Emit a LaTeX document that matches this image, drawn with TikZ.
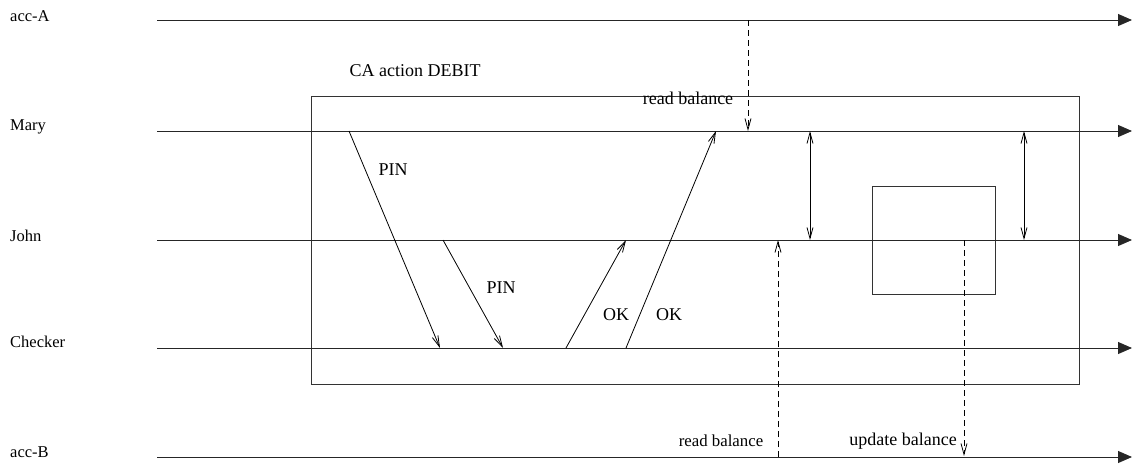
\documentclass[tikz,border=0pt]{standalone}
\usepackage{fontspec}
\setmainfont{Liberation Serif}
\usetikzlibrary{arrows.meta}
\begin{document}
\begin{tikzpicture}[x=1pt,y=-1pt,
  lifeline/.style={line width=0.9pt,draw=black!85,-{Triangle[length=14pt,width=12pt]}},
  msg/.style={line width=0.8pt,-{Straight Barb[length=11pt,width=6pt,line width=0.8pt]}},
  both/.style={line width=0.8pt,{Straight Barb[length=11pt,width=6pt,line width=0.8pt]}-{Straight Barb[length=11pt,width=6pt,line width=0.8pt]}},
  access/.style={msg,dash pattern=on 6pt off 4pt},
  frame/.style={draw=black!80,line width=0.9pt},
  lane/.style={anchor=west,font=\fontsize{16.5}{18}\selectfont,inner sep=0pt},
  tag/.style={font=\fontsize{18}{20}\selectfont,inner sep=0pt}]
\useasboundingbox (0,0) rectangle (1133,464);

% lifelines
\foreach \name/\y in {accA/20,mary/131,john/240,checker/348,accB/457}{
  \coordinate (\name-s) at (157,\y);
  \coordinate (\name-e) at (1132,\y);
}
\node[lane] (laccA) at (10,16) {acc-A};
\node[lane] (lmary) at (10,127) {Mary};
\node[lane] (ljohn) at (10,236) {John};
\node[lane] (lchecker) at (10,342) {Checker};
\node[lane] (laccB) at (10,452) {acc-B};

% CA action frame and nested box
\node[frame,minimum width=768pt,minimum height=288pt,inner sep=0pt,anchor=north west] (ca) at (311,96) {};
\node[frame,minimum width=123pt,minimum height=108pt,inner sep=0pt,anchor=north west] (nested) at (872,186) {};

\foreach \name in {accA,mary,john,checker,accB}{
  \draw[lifeline] (\name-s) -- (\name-e);
}

\node[tag] (catitle) at (415,71) {CA action DEBIT};

% messages
\coordinate (pin1s) at (349,131);  \coordinate (pin1e) at (440,348);
\coordinate (pin2s) at (443,240);  \coordinate (pin2e) at (503,348);
\coordinate (ok1s) at (566,348);   \coordinate (ok1e) at (626,240);
\coordinate (ok2s) at (626,348);   \coordinate (ok2e) at (716,131);
\draw[msg] (pin1s) -- (pin1e);
\draw[msg] (pin2s) -- (pin2e);
\draw[msg] (ok1s) -- (ok1e);
\draw[msg] (ok2s) -- (ok2e);
\node[tag] (pin1) at (393,170) {PIN};
\node[tag] (pin2) at (501,288) {PIN};
\node[tag] (ok1) at (616,315) {OK};
\node[tag] (ok2) at (669,315) {OK};

% synchronisation between Mary and John
\coordinate (sync1a) at (810,131); \coordinate (sync1b) at (810,240);
\coordinate (sync2a) at (1024,131); \coordinate (sync2b) at (1024,240);
\draw[both] (sync1a) -- (sync1b);
\draw[both] (sync2a) -- (sync2b);

% account accesses
\coordinate (rdAs) at (748,20);  \coordinate (rdAe) at (748,131);
\coordinate (rdBs) at (778,457); \coordinate (rdBe) at (778,240);
\coordinate (upBs) at (964,240); \coordinate (upBe) at (964,456);
\draw[access] (rdAs) -- (rdAe);
\draw[access] (rdBs) -- (rdBe);
\draw[access] (upBs) -- (upBe);
\node[tag] (rdAlbl) at (688,98) {read balance};
\node[tag,font=\fontsize{16.8}{18}\selectfont] (rdBlbl) at (721,441) {read balance};
\node[tag] (upBlbl) at (903,441) {update balance};
\end{tikzpicture}
\end{document}
